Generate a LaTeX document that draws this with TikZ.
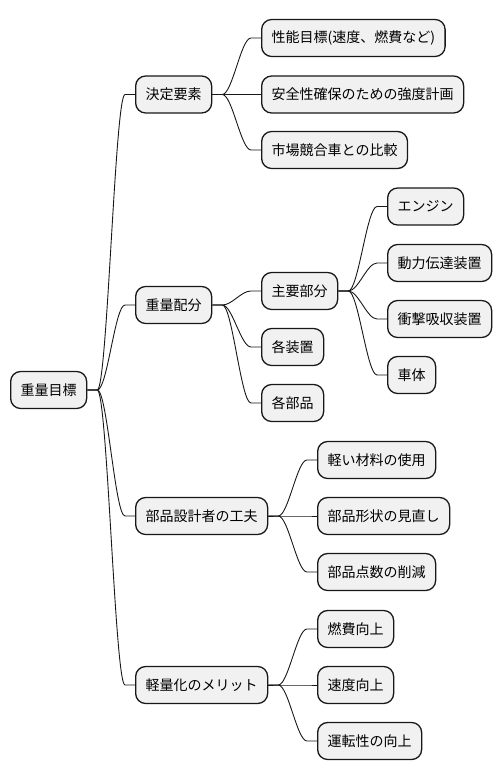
\documentclass[tikz,border=0pt]{standalone}
\usepackage{fontspec}
\setmainfont{Noto Sans CJK JP}
\usetikzlibrary{calc}
\definecolor{boxfill}{HTML}{F1F1F1}
\definecolor{boxline}{HTML}{181818}
\tikzset{
  mm/.style={draw=boxline, line width=1.3pt, fill=boxfill, rounded corners=10pt,
    minimum height=37pt, inner xsep=10pt, inner ysep=0pt, anchor=west,
    font=\fontsize{14pt}{16pt}\selectfont, text=black},
  conn/.style={draw=boxline, line width=0.9pt}
}
\newcommand\mmconn[2]{\draw[conn] (#1.east) -- ++(10,0) .. controls +(10,0) and ($(#2.west)+(-20,0)$) .. ($(#2.west)+(-10,0)$) -- (#2.west);}
\begin{document}
\begin{tikzpicture}[x=1pt,y=-1pt]
\useasboundingbox (0,0) rectangle (502,781);
\node[mm] (root) at (10,390) {重量目標};
\node[mm] (a) at (135,94.5) {決定要素};
\node[mm] (b) at (135,305) {重量配分};
\node[mm] (c) at (135,516) {部品設計者の工夫};
\node[mm] (d) at (135,685) {軽量化のメリット};
\node[mm] (a1) at (261,38) {性能目標(速度、燃費など)};
\node[mm] (a2) at (261,94.5) {安全性確保のための強度計画};
\node[mm] (a3) at (261,150) {市場競合車との比較};
\node[mm] (b1) at (261,291) {主要部分};
\node[mm] (b2) at (261,347) {各装置};
\node[mm] (b3) at (261,403) {各部品};
\node[mm] (e1) at (387,206.5) {エンジン};
\node[mm] (e2) at (387,263) {動力伝達装置};
\node[mm] (e3) at (387,319) {衝撃吸収装置};
\node[mm] (e4) at (387,375) {車体};
\node[mm] (c1) at (317,460) {軽い材料の使用};
\node[mm] (c2) at (317,516) {部品形状の見直し};
\node[mm] (c3) at (317,572) {部品点数の削減};
\node[mm] (d1) at (317,629) {燃費向上};
\node[mm] (d2) at (317,685) {速度向上};
\node[mm] (d3) at (317,741) {運転性の向上};
\mmconn{root}{a}\mmconn{root}{b}\mmconn{root}{c}\mmconn{root}{d}
\mmconn{a}{a1}\mmconn{a}{a2}\mmconn{a}{a3}
\mmconn{b}{b1}\mmconn{b}{b2}\mmconn{b}{b3}
\mmconn{b1}{e1}\mmconn{b1}{e2}\mmconn{b1}{e3}\mmconn{b1}{e4}
\mmconn{c}{c1}\mmconn{c}{c2}\mmconn{c}{c3}
\mmconn{d}{d1}\mmconn{d}{d2}\mmconn{d}{d3}
\end{tikzpicture}
\end{document}
